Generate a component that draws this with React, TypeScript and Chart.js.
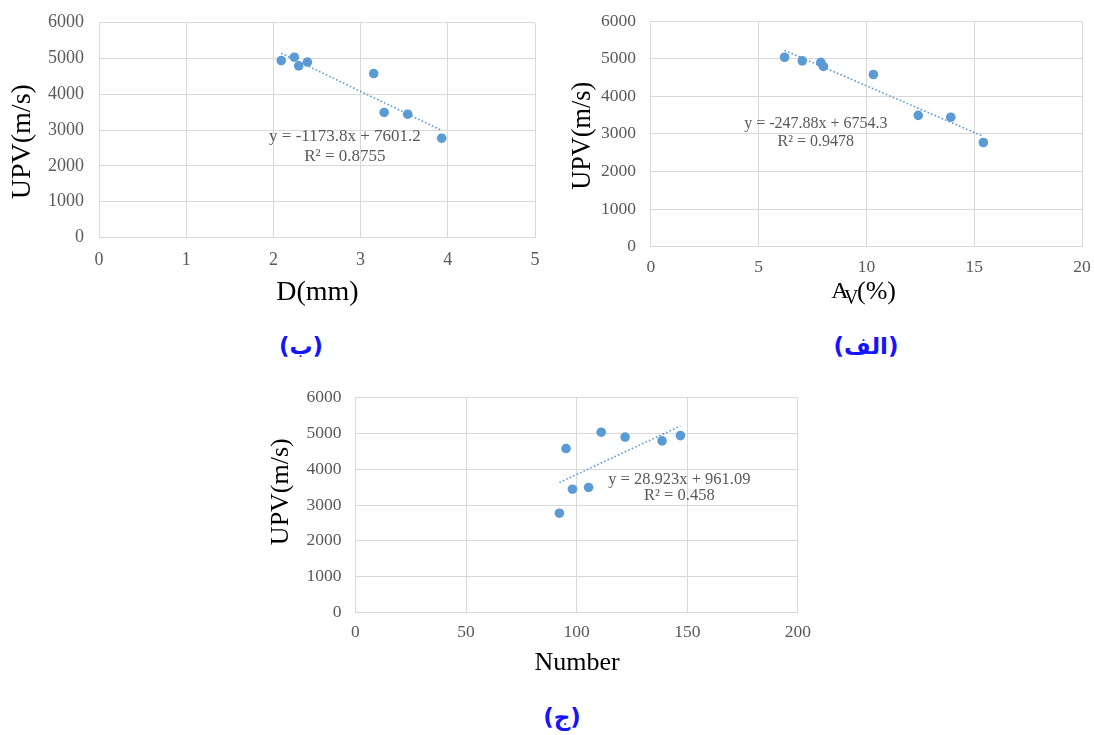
import React, { useEffect, useRef } from "react";
import { Chart, registerables } from "chart.js";

Chart.register(...registerables);

// ---- data ----
const upvValues = [5036, 4941, 4900, 4792, 4578, 3490, 3442, 2770];
const diameterMm = [2.24, 2.09, 2.39, 2.29, 3.15, 3.27, 3.54, 3.93];
const voidPercent = [6.2, 7.02, 7.88, 8.0, 10.32, 12.4, 13.91, 15.42];
const fiberNumber = [111.1, 146.9, 121.9, 138.6, 95.2, 105.4, 98.1, 92.2];

const trendSlopes = [-1173.8, -247.88, 28.923];
const trendIntercepts = [7601.2, 6754.3, 961.09];
const equationLabels = ["y = -1173.8x + 7601.2", "y = -247.88x + 6754.3", "y = 28.923x + 961.09"];
const r2Labels = ["R\u00b2 = 0.8755", "R\u00b2 = 0.9478", "R\u00b2 = 0.458"];

const yTitleText = "UPV(m/s)";
const captionLabels = ["(ب)", "(الف)", "(ج)"];

const SERIF = '"Liberation Serif", "Times New Roman", serif';
const BLUE = "#5b9bd5";
const GRID = "#d9d9d9";
const TICK = "#595959";

type Seg = { text: string; x: number; dy: number; size: number; align: CanvasTextAlign };

interface Spec {
  id: string;
  box: { left: number; top: number; width: number; height: number };
  area: { left: number; top: number; right: number; bottom: number };
  xValues: number[];
  yValues: number[];
  xMax: number;
  xStep: number;
  tickSize: number;
  xTickPad: number;
  yTickPad: number;
  slope: number;
  intercept: number;
  eq: string;
  r2: string;
  labelX: number;
  eqY: number;
  r2Y: number;
  labelSize: number;
  yTitle: { x: number; y: number; size: number };
  xTitleBaseline: number;
  xTitle: Seg[];
}

const specs: Spec[] = [
  {
    id: "d",
    box: { left: 0, top: 0, width: 560, height: 320 },
    area: { left: 99, top: 22.7, right: 535, bottom: 237.3 },
    xValues: diameterMm,
    yValues: upvValues,
    xMax: 5,
    xStep: 1,
    tickSize: 18,
    xTickPad: 12,
    yTickPad: 15,
    slope: trendSlopes[0],
    intercept: trendIntercepts[0],
    eq: equationLabels[0],
    r2: r2Labels[0],
    labelX: 2.82,
    eqY: 2810,
    r2Y: 2264,
    labelSize: 17,
    yTitle: { x: 22.8, y: 141.7, size: 28 },
    xTitleBaseline: 300,
    xTitle: [{ text: "D(mm)", x: 317.4, dy: 0, size: 28, align: "center" }],
  },
  {
    id: "av",
    box: { left: 560, top: 0, width: 534, height: 320 },
    area: { left: 90.9, top: 21, right: 522.1, bottom: 246.7 },
    xValues: voidPercent,
    yValues: upvValues,
    xMax: 20,
    xStep: 5,
    tickSize: 17.5,
    xTickPad: 10.3,
    yTickPad: 15,
    slope: trendSlopes[1],
    intercept: trendIntercepts[1],
    eq: equationLabels[1],
    r2: r2Labels[1],
    labelX: 7.65,
    eqY: 3256,
    r2Y: 2791,
    labelSize: 16,
    yTitle: { x: 23.3, y: 135.8, size: 26.3 },
    xTitleBaseline: 298.3,
    xTitle: [
      { text: "A", x: 271.3, dy: 0, size: 24, align: "left" },
      { text: "V", x: 284, dy: 5.7, size: 20, align: "left" },
      { text: "(%)", x: 297, dy: 1, size: 26, align: "left" },
    ],
  },
  {
    id: "n",
    box: { left: 260, top: 380, width: 560, height: 320 },
    area: { left: 95.4, top: 17.7, right: 537.9, bottom: 232.3 },
    xValues: fiberNumber,
    yValues: upvValues,
    xMax: 200,
    xStep: 50,
    tickSize: 17.5,
    xTickPad: 9.7,
    yTickPad: 14,
    slope: trendSlopes[2],
    intercept: trendIntercepts[2],
    eq: equationLabels[2],
    r2: r2Labels[2],
    labelX: 146.4,
    eqY: 3721,
    r2Y: 3257,
    labelSize: 16.5,
    yTitle: { x: 21.4, y: 111.7, size: 26 },
    xTitleBaseline: 290,
    xTitle: [{ text: "Number", x: 317, dy: 0, size: 26, align: "center" }],
  },
];

const captions = [
  { text: captionLabels[0], cx: 301, cy: 346 },
  { text: captionLabels[1], cx: 866, cy: 346 },
  { text: captionLabels[2], cx: 562, cy: 717 },
];

function makePlugin(spec: Spec) {
  return {
    id: "annot_" + spec.id,
    afterDraw(chart: any) {
      const ctx: CanvasRenderingContext2D = chart.ctx;
      const xs = chart.scales.x;
      const ys = chart.scales.y;
      ctx.save();
      ctx.fillStyle = TICK;
      ctx.font = `${spec.labelSize}px ${SERIF}`;
      ctx.textAlign = "center";
      ctx.textBaseline = "middle";
      const lx = xs.getPixelForValue(spec.labelX);
      ctx.fillText(spec.eq, lx, ys.getPixelForValue(spec.eqY));
      ctx.fillText(spec.r2, lx, ys.getPixelForValue(spec.r2Y));
      ctx.restore();

      ctx.save();
      ctx.fillStyle = "#000";
      ctx.font = `${spec.yTitle.size}px ${SERIF}`;
      ctx.textAlign = "center";
      ctx.textBaseline = "middle";
      ctx.translate(spec.yTitle.x, spec.yTitle.y);
      ctx.rotate(-Math.PI / 2);
      ctx.fillText(yTitleText, 0, 0);
      ctx.restore();

      ctx.save();
      ctx.fillStyle = "#000";
      ctx.textBaseline = "alphabetic";
      for (const seg of spec.xTitle) {
        ctx.font = `${seg.size}px ${SERIF}`;
        ctx.textAlign = seg.align;
        ctx.fillText(seg.text, seg.x, spec.xTitleBaseline + seg.dy);
      }
      ctx.restore();
    },
  };
}

function ScatterPanel({ spec }: { spec: Spec }) {
  const ref = useRef<HTMLCanvasElement | null>(null);
  useEffect(() => {
    if (!ref.current) return;
    const xMin = Math.min(...spec.xValues);
    const xMaxData = Math.max(...spec.xValues);
    const points = spec.xValues.map((x, i) => ({ x, y: spec.yValues[i] }));
    const trend = [
      { x: xMin, y: spec.slope * xMin + spec.intercept },
      { x: xMaxData, y: spec.slope * xMaxData + spec.intercept },
    ];
    const W = spec.box.width;
    const H = spec.box.height;
    const chart = new Chart(ref.current, {
      type: "scatter",
      data: {
        datasets: [
          {
            type: "line",
            data: trend,
            borderColor: BLUE,
            borderWidth: 1.6,
            borderDash: [1.6, 2.2],
            pointRadius: 0,
            fill: false,
            tension: 0,
          } as any,
          {
            type: "scatter",
            data: points,
            backgroundColor: BLUE,
            borderColor: BLUE,
            borderWidth: 0,
            pointRadius: 4.8,
            pointHoverRadius: 4.8,
          },
        ],
      },
      options: {
        responsive: false,
        animation: false,
        events: [],
        layout: {
          padding: { left: 0, top: spec.area.top, right: W - spec.area.right, bottom: 0 },
        },
        plugins: {
          legend: { display: false },
          tooltip: { enabled: false },
          title: { display: false },
        },
        scales: {
          x: {
            type: "linear",
            min: 0,
            max: spec.xMax,
            ticks: {
              stepSize: spec.xStep,
              color: TICK,
              font: { family: SERIF, size: spec.tickSize },
              padding: spec.xTickPad,
              callback: (v: any) => String(v),
            },
            grid: { color: GRID, lineWidth: 1, drawTicks: false },
            border: { color: GRID, width: 1 },
            afterFit: (s: any) => {
              s.height = H - spec.area.bottom;
              s.paddingLeft = 0;
              s.paddingRight = 0;
              s.paddingTop = 0;
              s.paddingBottom = 0;
            },
          },
          y: {
            type: "linear",
            min: 0,
            max: 6000,
            ticks: {
              stepSize: 1000,
              color: TICK,
              font: { family: SERIF, size: spec.tickSize },
              padding: spec.yTickPad,
              callback: (v: any) => String(v),
            },
            grid: { color: GRID, lineWidth: 1, drawTicks: false },
            border: { color: GRID, width: 1 },
            afterFit: (s: any) => {
              s.width = spec.area.left;
              s.paddingLeft = 0;
              s.paddingRight = 0;
              s.paddingTop = 0;
              s.paddingBottom = 0;
            },
          },
        },
      } as any,
      plugins: [makePlugin(spec)],
    });
    return () => chart.destroy();
  }, [spec]);
  return (
    <canvas
      ref={ref}
      width={spec.box.width}
      height={spec.box.height}
      style={{
        position: "absolute",
        left: spec.box.left,
        top: spec.box.top,
        width: spec.box.width,
        height: spec.box.height,
      }}
    />
  );
}

export default function App() {
  return (
    <div
      style={{
        position: "absolute",
        left: 0,
        top: 0,
        width: 1094,
        height: 735,
        background: "#fff",
        overflow: "hidden",
      }}
    >
      {specs.map((s) => (
        <ScatterPanel key={s.id} spec={s} />
      ))}
      {captions.map((c, i) => (
        <div
          key={i}
          dir="rtl"
          style={{
            position: "absolute",
            left: c.cx - 60,
            top: c.cy - 16,
            width: 120,
            height: 32,
            lineHeight: "32px",
            textAlign: "center",
            fontFamily: '"DejaVu Sans", sans-serif',
            fontWeight: "bold",
            fontSize: 23,
            color: "#1414ff",
          }}
        >
          {c.text}
        </div>
      ))}
    </div>
  );
}
